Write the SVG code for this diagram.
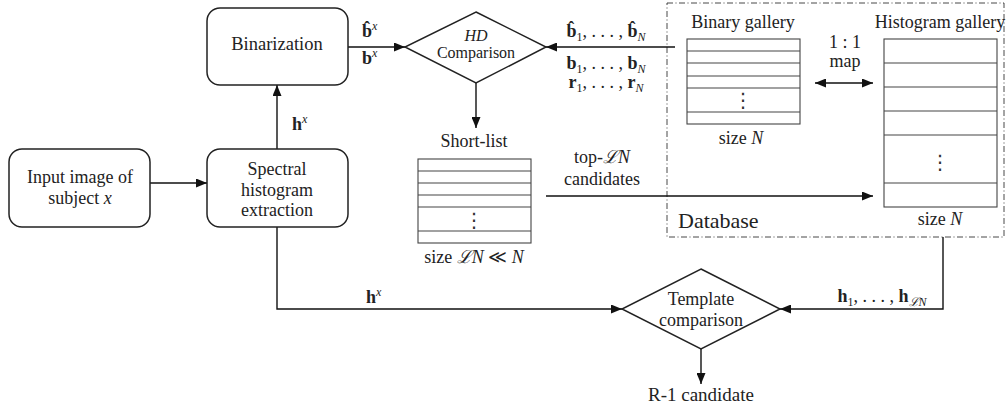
<svg xmlns="http://www.w3.org/2000/svg" width="1007" height="410" viewBox="0 0 1007 410">
<style>
text{font-family:"Liberation Serif","DejaVu Serif",serif;font-size:18px;fill:#222}
.c{text-anchor:middle}
.sm{font-size:16px}
.b{font-weight:bold}
.it{font-style:italic}
.sub{font-size:12px}
.sup{font-size:12px;font-style:italic}
.box{fill:#fff;stroke:#222;stroke-width:1.5}
.tbl{fill:#fff;stroke:#444;stroke-width:1.1}
.row{stroke:#444;stroke-width:1.1}
.ln{fill:none;stroke:#111;stroke-width:1.4}
.db{fill:none;stroke:#333;stroke-width:0.9;stroke-dasharray:6 2.5 1 2.5}
.dots{font-family:"DejaVu Sans",sans-serif;font-size:20px;fill:#333}
</style>
<defs>
<marker id="arr" markerUnits="userSpaceOnUse" markerWidth="11" markerHeight="9" refX="11" refY="4.5" orient="auto-start-reverse"><path d="M0,0 L11,4.5 L0,9 z" fill="#111"/></marker>
</defs>

<g id="database">
<rect class="db" x="667" y="3" width="337" height="234"/>
<text x="678" y="228" style="font-size:22px">Database</text>
</g>

<g id="connectors">
<line class="ln" x1="348" y1="47" x2="405" y2="47" marker-end="url(#arr)"/>
<line class="ln" x1="675" y1="47" x2="546" y2="47" marker-end="url(#arr)"/>
<line class="ln" x1="476" y1="83" x2="476" y2="128" marker-end="url(#arr)"/>
<line class="ln" x1="277" y1="149" x2="277" y2="85" marker-end="url(#arr)"/>
<line class="ln" x1="150" y1="183" x2="207" y2="183" marker-end="url(#arr)"/>
<line class="ln" x1="546" y1="196" x2="873" y2="196" marker-end="url(#arr)"/>
<line class="ln" x1="815" y1="83" x2="873" y2="83" marker-start="url(#arr)" marker-end="url(#arr)"/>
<polyline class="ln" points="277,227 277,309 622,309" marker-end="url(#arr)"/>
<polyline class="ln" points="943,237 943,309 780,309" marker-end="url(#arr)"/>
<line class="ln" x1="701" y1="349" x2="701" y2="384" marker-end="url(#arr)"/>
</g>

<g id="binarization">
<rect class="box" x="207" y="8" width="141" height="77" rx="13"/>
<text class="c" x="277" y="50" style="font-size:18.5px">Binarization</text>
</g>

<g id="input">
<rect class="box" x="9" y="149" width="141" height="78" rx="13"/>
<text class="c" x="80" y="183">Input image of</text>
<text class="c" x="80" y="204">subject <tspan class="it">x</tspan></text>
</g>

<g id="spectral">
<rect class="box" x="207" y="149" width="141" height="78" rx="13"/>
<text class="c" x="277" y="175">Spectral</text>
<text class="c" x="277" y="196">histogram</text>
<text class="c" x="277" y="216">extraction</text>
</g>

<g id="hd-comparison">
<polygon class="box" points="476,12 546,47 476,83 405,47"/>
<text class="c sm it" x="476" y="41">HD</text>
<text class="c sm" x="476" y="58">Comparison</text>
</g>

<g id="template-comparison">
<polygon class="box" points="701,269 780,309 701,349 622,309"/>
<text class="c" x="701" y="305">Template</text>
<text class="c" x="701" y="326">comparison</text>
</g>

<g id="r1">
<text class="c" x="701" y="401" style="font-size:19px">R-1 candidate</text>
</g>

<g id="shortlist">
<text class="c" x="474" y="147">Short-list</text>
<rect class="tbl" x="418" y="159" width="113" height="84"/>
<path class="row" d="M418,171H531M418,183H531M418,195H531M418,207H531M418,231H531"/>
<text class="c dots" x="474" y="227">⋮</text>
<text class="c" x="474" y="263">size <tspan class="it">ℒN</tspan> ≪ <tspan class="it">N</tspan></text>
</g>

<g id="binary-gallery">
<text class="c" x="743" y="28">Binary gallery</text>
<rect class="tbl" x="687" y="39" width="113" height="85"/>
<path class="row" d="M687,51H800M687,63H800M687,76H800M687,88H800M687,112H800"/>
<text class="c dots" x="743" y="107">⋮</text>
<text class="c" x="741" y="144">size <tspan class="it">N</tspan></text>
</g>

<g id="histogram-gallery">
<text class="c" x="940" y="28">Histogram gallery</text>
<rect class="tbl" x="884" y="39" width="113" height="168"/>
<path class="row" d="M884,63H997M884,87H997M884,111H997M884,135H997M884,183H997"/>
<text class="c dots" x="940" y="169">⋮</text>
<text class="c" x="940" y="225">size <tspan class="it">N</tspan></text>
</g>

<g id="labels">
<text x="362" y="37"><tspan class="b">b&#770;</tspan><tspan class="sup" dy="-7">x</tspan></text>
<text x="362" y="64"><tspan class="b">b</tspan><tspan class="sup" dy="-7">x</tspan></text>
<text x="292" y="130"><tspan class="b">h</tspan><tspan class="sup" dy="-7">x</tspan></text>
<text x="366" y="303"><tspan class="b">h</tspan><tspan class="sup" dy="-7">x</tspan></text>
<text class="c" x="606" y="37"><tspan class="b">b&#770;</tspan><tspan class="sub" dy="4">1</tspan><tspan dy="-4">, . . . , </tspan><tspan class="b">b&#770;</tspan><tspan class="sub it" dy="4">N</tspan></text>
<text class="c" x="606" y="69"><tspan class="b">b</tspan><tspan class="sub" dy="4">1</tspan><tspan dy="-4">, . . . , </tspan><tspan class="b">b</tspan><tspan class="sub it" dy="4">N</tspan></text>
<text class="c" x="606" y="88"><tspan class="b">r</tspan><tspan class="sub" dy="4">1</tspan><tspan dy="-4">, . . . , </tspan><tspan class="b">r</tspan><tspan class="sub it" dy="4">N</tspan></text>
<text class="c" x="602" y="163">top-<tspan class="it">ℒN</tspan></text>
<text class="c" x="602" y="185">candidates</text>
<text class="c" x="845" y="48">1 : 1</text>
<text class="c" x="845" y="67">map</text>
<text class="c" x="882" y="302"><tspan class="b">h</tspan><tspan class="sub" dy="4">1</tspan><tspan dy="-4">, . . . , </tspan><tspan class="b">h</tspan><tspan class="sub it" dy="4">ℒN</tspan></text>
</g>
</svg>
